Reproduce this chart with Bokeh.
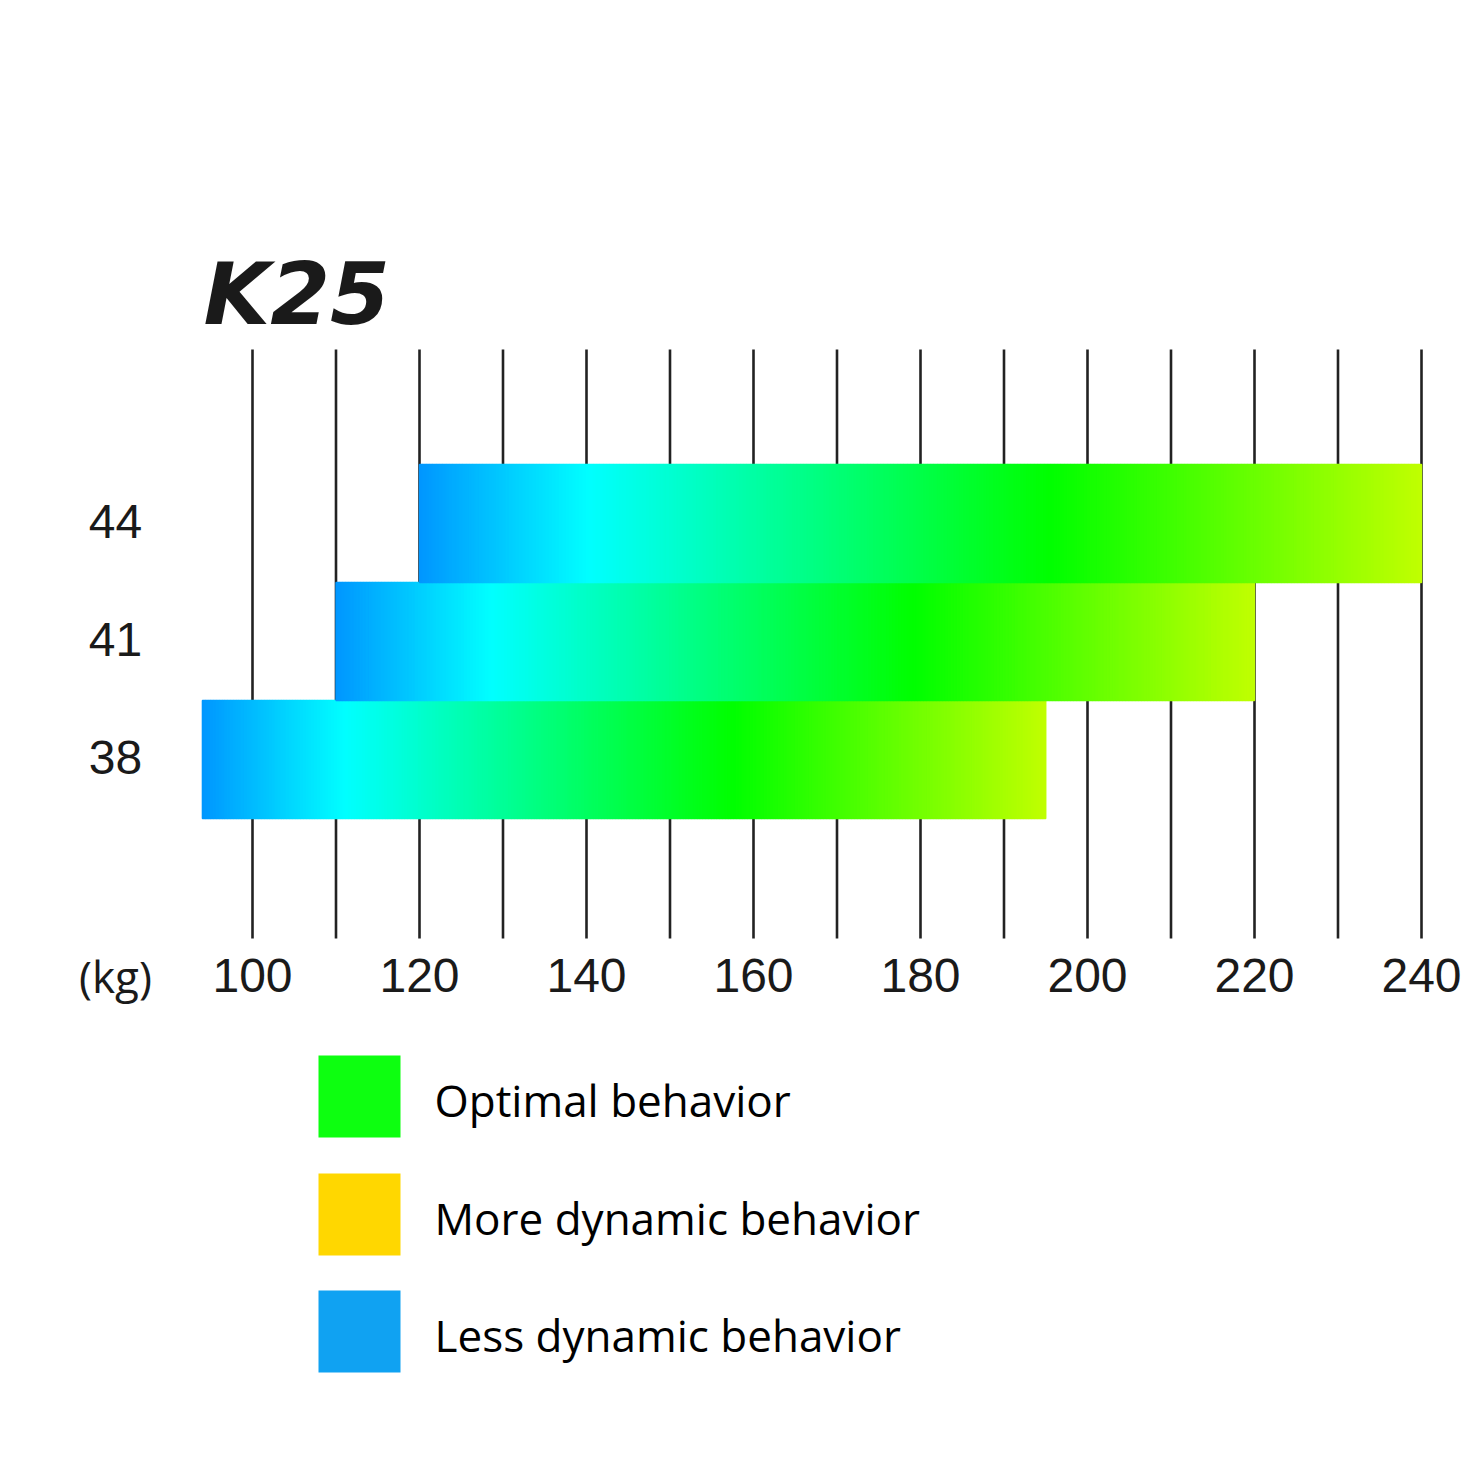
import numpy as np
from bokeh.plotting import figure
from bokeh.models import Range1d
from bokeh.core.properties import value
from bokeh.embed import file_html
from bokeh.resources import INLINE

# ---------------- data ----------------
TITLE = "K25"
SIZES = ["38", "41", "44"]          # ski length categories (bottom to top)
RANGE_START = [94, 110, 120]        # kg
RANGE_END = [195, 220, 240]         # kg
GRID_TICKS = list(range(100, 241, 10))
LABEL_TICKS = list(range(100, 241, 20))
UNIT_LABEL = "(kg)"
LEGEND_LABELS = ["Optimal behavior", "More dynamic behavior", "Less dynamic behavior"]
LEGEND_COLORS = ["#0dff10", "#ffd700", "#10a2f2"]

# gradient stops along each bar (fraction, colour)
GRAD_POS = [0.0, 0.17, 0.63, 1.0]
GRAD_RGB = [(0, 150, 255), (0, 255, 255), (0, 255, 0), (192, 255, 0)]

# ---------------- layout (reference pixels) ----------------
W = H = 1463
PX0, PX1 = 0, 1463                  # canvas spans these reference pixels
KG_AT_PX = (100, 252.0)             # 100 kg sits at ref x 252
PX_PER_KG = 8.35
ROW0_CENTER, ROW_H = 759, 118
GRID_TOP, GRID_BOTTOM = 349, 938
TICK_Y = 975
LABEL_X = 115
INK = "#1a1a1a"


def kg(px):
    return KG_AT_PX[0] + (px - KG_AT_PX[1]) / PX_PER_KG


p = figure(width=W, height=H, output_backend="svg", toolbar_location=None,
           x_range=Range1d(kg(PX0), kg(PX1)), y_range=Range1d(PX1, PX0),
           min_border=0, background_fill_color="white", border_fill_color="white")
p.extra_x_ranges = {"px": Range1d(PX0, PX1)}
p.axis.visible = False
p.grid.visible = False
p.outline_line_color = None

# gridlines
p.segment(x0=GRID_TICKS, x1=GRID_TICKS, y0=[GRID_TOP] * len(GRID_TICKS),
          y1=[GRID_BOTTOM] * len(GRID_TICKS), line_color="#222222", line_width=2.6)


def grad_color(f):
    r = np.interp(f, GRAD_POS, [c[0] for c in GRAD_RGB])
    g = np.interp(f, GRAD_POS, [c[1] for c in GRAD_RGB])
    b = np.interp(f, GRAD_POS, [c[2] for c in GRAD_RGB])
    return "#%02x%02x%02x" % (int(round(r)), int(round(g)), int(round(b)))


N = 300
lefts, rights, tops, bottoms, colors = [], [], [], [], []
for i, (s, e) in enumerate(zip(RANGE_START, RANGE_END)):
    cy = ROW0_CENTER - i * ROW_H
    edges = np.linspace(s, e, N + 1)
    for k in range(N):
        f = (k + 0.5) / N
        lefts.append(edges[k])
        rights.append(edges[k + 1])
        tops.append(cy - ROW_H / 2)
        bottoms.append(cy + ROW_H / 2)
        colors.append(grad_color(f))
p.quad(left=lefts, right=rights, top=tops, bottom=bottoms,
       fill_color=colors, line_color=colors, line_width=1.4)

# x tick labels
p.text(x=LABEL_TICKS, y=[TICK_Y] * len(LABEL_TICKS), text=[str(t) for t in LABEL_TICKS],
       text_font=value("Liberation Sans"), text_font_size="48px", text_color=INK,
       text_align="center", text_baseline="middle")
p.text(x=[LABEL_X], y=[TICK_Y], text=[UNIT_LABEL], x_range_name="px",
       text_font=value("Open Sans"), text_font_size="44px", text_color=INK,
       text_align="center", text_baseline="middle")

# y category labels
p.text(x=[LABEL_X] * len(SIZES), y=[ROW0_CENTER - i * ROW_H - 2 for i in range(len(SIZES))],
       text=SIZES, x_range_name="px",
       text_font=value("Liberation Sans"), text_font_size="48px", text_color=INK,
       text_align="center", text_baseline="middle")

# title
p.text(x=[203], y=[293], text=[TITLE], x_range_name="px",
       text_font=value("DejaVu Sans"), text_font_style="bold italic",
       text_font_size="86px", text_color=INK, text_align="left", text_baseline="middle")

# legend
LEG_Y = [1096, 1214, 1331]
p.rect(x=[359] * 3, y=LEG_Y, width=82, height=82, x_range_name="px",
       fill_color=LEGEND_COLORS, line_color=None)
p.text(x=[434] * 3, y=[y + 3 for y in LEG_Y], text=LEGEND_LABELS, x_range_name="px",
       text_font=value("Open Sans"), text_font_size="44px", text_color="#000000",
       text_align="left", text_baseline="middle")

open("out.html", "w").write(file_html(p, INLINE))
